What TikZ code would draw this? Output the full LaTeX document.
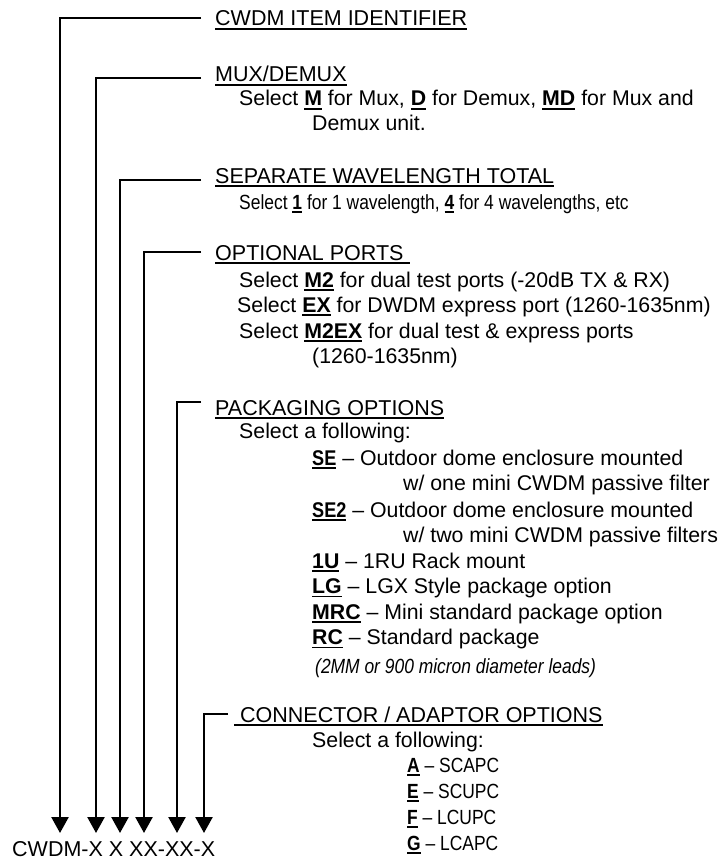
\documentclass[tikz,border=0pt]{standalone}
\usepackage{fontspec}
\setmainfont{Liberation Sans}
\newfontfamily\narrowfont{Liberation Sans}[FakeStretch=0.85, Ligatures=TeX]
\usetikzlibrary{arrows.meta, positioning}

% underlined text, rule at a fixed depth
\newsavebox\ulbox
\newcommand{\undl}[1]{\sbox\ulbox{#1}\rlap{\rule[-3.6pt]{\wd\ulbox}{1.4pt}}\usebox\ulbox}
\newcommand{\code}[1]{\undl{\textbf{#1}}}

\begin{document}
\begin{tikzpicture}[x=1pt, y=-1pt]
    \tikzstyle{head} = [anchor=base west, inner sep=0pt, font=\fontsize{21.5}{26}\selectfont]
    \tikzstyle{item} = [anchor=base west, inner sep=0pt, font=\fontsize{21.3}{25}\selectfont]
    \tikzstyle{narrow} = [anchor=base west, inner sep=0pt, font=\narrowfont\fontsize{20.5}{25}\selectfont]
    \tikzstyle{lead} = [draw, line width=2.4pt, -{Triangle[length=16pt, width=17pt]}]

    \useasboundingbox (0,0) rectangle (724,861);

    % Headings
    \node[head] (hd1) at (215,26) {\undl{CWDM ITEM IDENTIFIER}};
    \node[head] (hd2) at (215,82) {\undl{MUX/DEMUX}};
    \node[head] (hd3) at (215,183) {\undl{SEPARATE WAVELENGTH TOTAL}};
    \node[head] (hd4) at (215,260) {\undl{OPTIONAL PORTS\ }};
    \node[head] (hd5) at (215,415) {\undl{PACKAGING OPTIONS}};
    \node[head] (hd6) at (234,722) {\undl{\ CONNECTOR / ADAPTOR OPTIONS}};

    % Mux / demux
    \node[item] (mux1) at (239,106) {Select \code{M} for Mux, \code{D} for Demux, \code{MD} for Mux and};
    \node[item] (mux2) at (312,131) {Demux unit.};

    % Wavelengths
    \node[narrow] (wave) at (239,209) {Select \code{1} for 1 wavelength, \code{4} for 4 wavelengths, etc};

    % Optional ports
    \node[item] (port1) at (239,287) {Select \code{M2} for dual test ports (-20dB TX \& RX)};
    \node[item] (port2) at (237,312) {Select \code{EX} for DWDM express port (1260-1635nm)};
    \node[item] (port3) at (239,338) {Select \code{M2EX} for dual test \& express ports};
    \node[item] (port4) at (312,363) {(1260-1635nm)};

    % Packaging
    \node[item] (pack0) at (239,438) {Select a following:};
    \node[item] (pack1) at (312,465) {{\narrowfont\code{SE}} \textendash\ Outdoor dome enclosure mounted};
    \node[item] (pack2) at (403,490) {w/ one mini CWDM passive filter};
    \node[item] (pack3) at (312,517) {{\narrowfont\code{SE2}} \textendash\ Outdoor dome enclosure mounted};
    \node[item] (pack4) at (403,542) {w/ two mini CWDM passive filters};
    \node[item] (pack5) at (312,568) {\code{1U} \textendash\ 1RU Rack mount};
    \node[item] (pack6) at (312,593.5) {\code{LG} \textendash\ LGX Style package option};
    \node[item] (pack7) at (312,619) {\code{MRC} \textendash\ Mini standard package option};
    \node[item] (pack8) at (312,644.5) {\code{RC} \textendash\ Standard package};
    \node[narrow] (pack9) at (315,673) {\itshape (2MM or 900 micron diameter leads)};

    % Connectors
    \node[item] (conn0) at (312,747) {Select a following:};
    \node[narrow] (conn1) at (407,772) {\code{A} \textendash\ SCAPC};
    \node[narrow] (conn2) at (407,798) {\code{E} \textendash\ SCUPC};
    \node[narrow] (conn3) at (407,824) {\code{F} \textendash\ LCUPC};
    \node[narrow] (conn4) at (407,850) {\code{G} \textendash\ LCAPC};

    % Part number
    \node[head] (part) at (12,856) {CWDM-X X XX-XX-X};

    % Arrow tips above the part number
    \foreach \n/\x in {1/60, 2/96, 3/120, 4/144, 5/177, 6/204}
        \coordinate (t\n) at (\x,833);

    % Leads from the headings
    \foreach \n/\dx/\dy in {1/14/7.7, 2/14/3.7, 3/14/3, 4/14/8, 5/14/13, 6/6/8}
        \draw[lead] ([shift={(-\dx,-\dy)}]hd\n.base west) -| (t\n);
\end{tikzpicture}
\end{document}
